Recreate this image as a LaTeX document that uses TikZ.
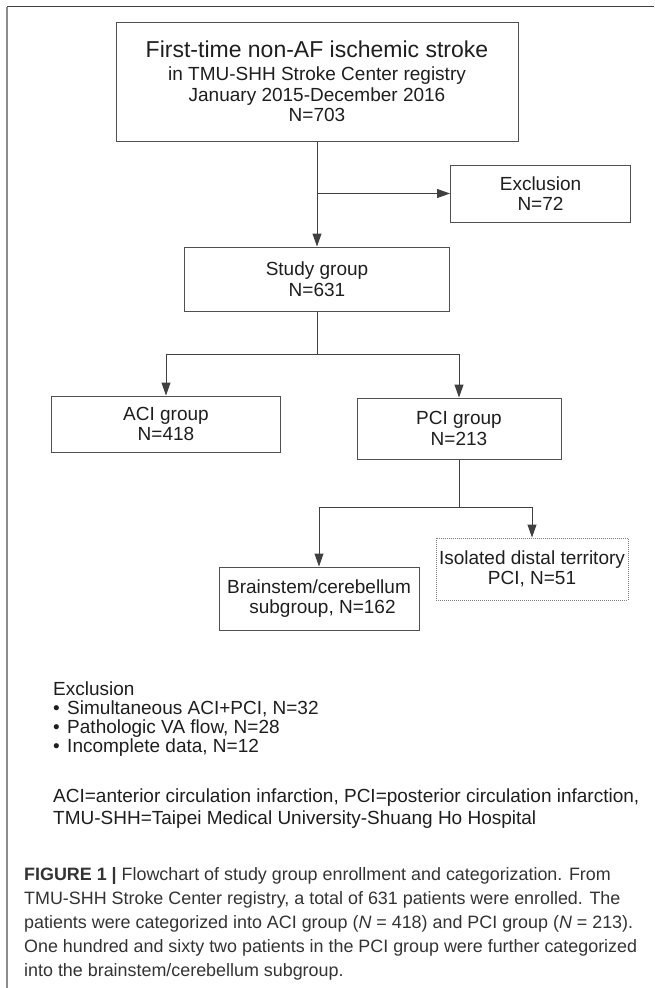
\documentclass[tikz,border=0pt]{standalone}
\usepackage{fontspec}
\setmainfont{Liberation Sans}
\usetikzlibrary{arrows.meta,positioning}

\definecolor{inkgray}{HTML}{1E1E1E}
\definecolor{boxgray}{HTML}{505050}
\definecolor{capgray}{HTML}{333333}
\definecolor{rulegray}{HTML}{8C8C8C}

\begin{document}
\begin{tikzpicture}[
  x=1pt, y=1pt,
  font=\fontsize{19}{20.5}\selectfont,
  text=inkgray,
  box/.style={
    draw=boxgray,
    line width=1pt,
    align=center,
    inner sep=0pt
  },
  dotbox/.style={box, draw=gray, dash pattern=on 1pt off 1pt},
  arrow/.style={-{Triangle[length=13pt,width=9pt]}, line width=1pt, draw=inkgray!85},
  note/.style={anchor=base west, inner sep=0pt},
  capline/.style={note, font=\fontsize{17.9}{24}\selectfont, text=capgray}
]

\useasboundingbox (0,0) rectangle (654,-988);

% page frame
\draw[line width=1.5pt, draw=black!75] (7,-6.5) -- (654,-6.5);
\draw[line width=1.5pt, draw=rulegray] (7,-6.5) -- (7,-988);

% flowchart
\node[box, minimum width=402pt, minimum height=119pt] (registry) at (317,-81.5)
  {{\fontsize{23}{26}\selectfont First-time non-AF ischemic stroke}\\[3pt]
   in TMU-SHH Stroke Center registry\\
   January 2015-December 2016\\
   N=703};
\node[box, minimum width=265pt, minimum height=64pt, below=105pt of registry] (study) {Study group\\N=631};
\node[box, minimum width=180pt, minimum height=57pt, above right=24pt and 0pt of study] (excl) {Exclusion\\N=72};
\node[box, minimum width=229pt, minimum height=56pt, below=84pt of study, xshift=-151pt] (aci) {ACI group\\N=418};
\node[box, minimum width=204pt, minimum height=61pt, below=86pt of study, xshift=142pt] (pci) {PCI group\\N=213};
\node[box, minimum width=200pt, minimum height=63pt, below=107pt of pci, xshift=-140pt] (brain) {Brainstem/cerebellum\\\hspace*{7pt}subgroup, N=162};
\node[dotbox, minimum width=192pt, minimum height=62pt, below=78pt of pci, xshift=73pt] (distal) {Isolated distal territory\\PCI, N=51};

\draw[arrow] (registry) -- (study);
\draw[arrow] (registry.south |- excl.west) -- (excl.west);
\draw[arrow] (study.south) -- ++(0,-43) -| (aci.north);
\draw[arrow] (study.south) -- ++(0,-43) -| (pci.north);
\draw[arrow] (pci.south) -- ++(0,-48) -| (brain.north);
\draw[arrow] (pci.south) -- ++(0,-48) -| (distal.north);

% legend
\node[note] (exhead) at (53,-695) {Exclusion};
\node[note] (ex1) at (53,-714.3) {\textbullet\hspace{7.4pt}Simultaneous ACI+PCI, N=32};
\node[note] (ex2) at (53,-733.6) {\textbullet\hspace{7.4pt}Pathologic VA flow, N=28};
\node[note] (ex3) at (53,-752.9) {\textbullet\hspace{7.4pt}Incomplete data, N=12};
\node[note] (abbr1) at (53,-802.5) {ACI=anterior circulation infarction, PCI=posterior circulation infarction,};
\node[note] (abbr2) at (53,-824.5) {TMU-SHH=Taipei Medical University-Shuang Ho Hospital};

% caption
\node[capline] (cap1) at (24,-880) {\textbf{FIGURE 1 |} Flowchart of study group enrollment and categorization. From};
\node[capline] (cap2) at (24,-904) {TMU-SHH Stroke Center registry, a total of 631 patients were enrolled. The};
\node[capline] (cap3) at (24,-928) {patients were categorized into ACI group (\textit{N} = 418) and PCI group (\textit{N} = 213).};
\node[capline] (cap4) at (24,-952.5) {One hundred and sixty two patients in the PCI group were further categorized};
\node[capline] (cap5) at (24,-976.5) {into the brainstem/cerebellum subgroup.};

\end{tikzpicture}
\end{document}
